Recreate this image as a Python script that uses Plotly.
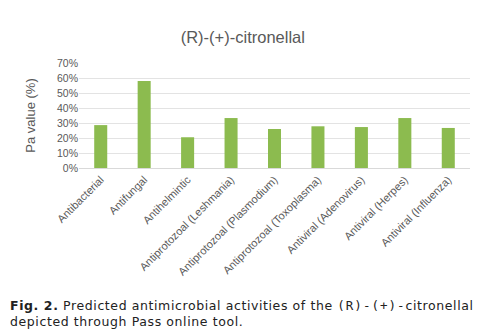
import plotly.graph_objects as go

categories = ["Antibacterial", "Antifungal", "Antihelmintic", "Antiprotozoal (Leshmania)",
              "Antiprotozoal (Plasmodium)", "Antiprotozoal (Toxoplasma)", "Antiviral (Adenovirus)",
              "Antiviral (Herpes)", "Antiviral (Influenza)"]
pa_values = [0.286, 0.580, 0.205, 0.333, 0.260, 0.278, 0.273, 0.333, 0.267]
y_ticks = [0, 0.1, 0.2, 0.3, 0.4, 0.5, 0.6, 0.7]
y_tick_labels = ["0%", "10%", "20%", "30%", "40%", "50%", "60%", "70%"]

gray = "#595959"
fig = go.Figure(go.Bar(x=categories, y=pa_values, marker_color="#8cbb4f",
                       marker_line_width=0, width=0.3))
fig.update_layout(
    width=478, height=333,
    margin=dict(l=79, r=8, t=63, b=165),
    plot_bgcolor="white", paper_bgcolor="white",
    showlegend=False,
    font=dict(family="Liberation Sans, Arial", color=gray),
    title=dict(text="(R)-(+)-citronellal", x=0.508, xanchor="center", y=0.888, yanchor="middle",
               font=dict(size=16.5, color=gray)),
)
fig.update_yaxes(range=[0, 0.7], tickvals=y_ticks, ticktext=y_tick_labels,
                 showgrid=True, gridcolor="#e3e3e3", gridwidth=1, zeroline=False,
                 tickfont=dict(size=10.5, color=gray), ticks="", ticklen=0,
                 title=dict(text="Pa value (%)", font=dict(size=13, color=gray), standoff=18))
fig.update_xaxes(tickangle=-45, tickfont=dict(size=11, color=gray), showline=True,
                 linecolor="#d9d9d9", ticks="", showgrid=False)
sp = "<span style='letter-spacing:0.6px'>"
caption = (sp + "<b>Fig. 2.</b> Predicted antimicrobial activities of the </span>"
           "<span style='font-family:DejaVu Sans Mono;letter-spacing:1px'>(R)-(+)-</span>"
           + sp + "citronellal</span><br>"
           + sp + "depicted through Pass online tool.</span>")
fig.add_annotation(xref="paper", yref="paper", x=-71/391, y=-(296-168)/105,
                   xanchor="left", yanchor="top", align="left", showarrow=False,
                   text=caption,
                   font=dict(family="DejaVu Sans", size=12.5, color="#222222"))
fig.write_html("out.html")
